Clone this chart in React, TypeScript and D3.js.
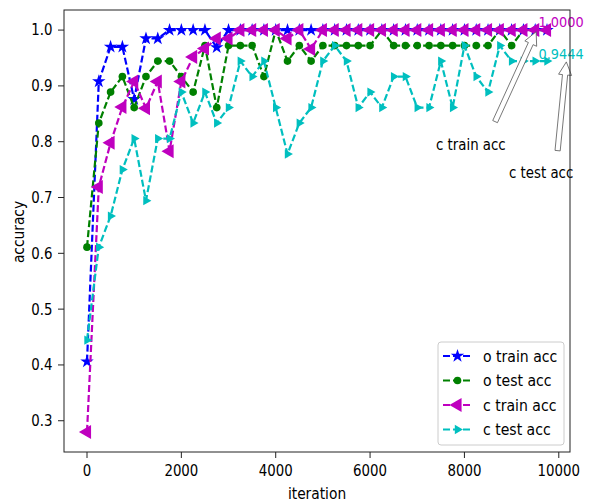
import React from 'react';
import * as d3 from 'd3';

// iteration values on x
const iterations = [
  0, 250, 500, 750, 1000, 1250, 1500, 1750, 2000, 2250,
  2500, 2750, 3000, 3250, 3500, 3750, 4000, 4250, 4500, 4750,
  5000, 5250, 5500, 5750, 6000, 6250, 6500, 6750, 7000, 7250,
  7500, 7750, 8000, 8250, 8500, 8750, 9000, 9250, 9500, 9750,
];

const oTrain = [
  0.406, 0.908, 0.970, 0.970, 0.876, 0.985, 0.985, 1.0, 1.0, 1.0,
  1.0, 0.969, 1.0, 1.0, 1.0, 1.0, 1.0, 1.0, 1.0, 1.0,
  1.0, 1.0, 1.0, 1.0, 1.0, 1.0, 1.0, 1.0, 1.0, 1.0,
  1.0, 1.0, 1.0, 1.0, 1.0, 1.0, 1.0, 1.0, 1.0, 1.0,
];

const oTest = [
  0.6111, 0.8333, 0.8889, 0.9167, 0.8611, 0.9167, 0.9444, 0.9444, 0.9167, 0.8889,
  0.9722, 0.8611, 0.9722, 0.9722, 0.9722, 0.9167, 1.0, 0.9444, 0.9722, 0.9444,
  0.9722, 0.9722, 0.9722, 0.9722, 0.9722, 1.0, 0.9722, 0.9722, 0.9722, 0.9722,
  0.9722, 0.9722, 0.9722, 0.9722, 0.9722, 1.0, 0.9722, 1.0, 1.0, 1.0,
];

const cTrain = [
  0.280, 0.719, 0.798, 0.862, 0.908, 0.860, 0.908, 0.783, 0.908, 0.952,
  0.967, 0.985, 0.985, 1.0, 1.0, 1.0, 1.0, 0.985, 1.0, 0.966,
  1.0, 1.0, 1.0, 1.0, 1.0, 1.0, 1.0, 1.0, 1.0, 1.0,
  1.0, 1.0, 1.0, 1.0, 1.0, 1.0, 1.0, 1.0, 1.0, 1.0,
];

const cTest = [
  0.4444, 0.6111, 0.6667, 0.75, 0.8056, 0.6944, 0.8056, 0.8056, 0.8889, 0.8333,
  0.8889, 0.8333, 0.8611, 0.9444, 0.9167, 0.9444, 0.8611, 0.7778, 0.8333, 0.8611,
  0.9444, 0.9722, 0.9444, 0.8611, 0.8889, 0.8611, 0.9167, 0.9167, 0.8611, 0.8611,
  0.9444, 0.8611, 0.9722, 0.9167, 0.8889, 0.9722, 0.9444, 0.9444, 0.9444, 0.9444,
];

const xTicks = [0, 2000, 4000, 6000, 8000, 10000];
const yTicks = [0.3, 0.4, 0.5, 0.6, 0.7, 0.8, 0.9, 1.0];

const series = [
  { name: 'o train acc', values: oTrain, color: '#0000ff', marker: 'star' },
  { name: 'o test acc', values: oTest, color: '#008000', marker: 'circle' },
  { name: 'c train acc', values: cTrain, color: '#bf00bf', marker: 'left' },
  { name: 'c test acc', values: cTest, color: '#00bfbf', marker: 'right' },
];

// annotation arrows: tail (near text) -> tip, text = left/baseline, all in data units
const annotations = [
  { label: 'c train acc', tail: [8650, 0.836], tip: [9520, 0.997], text: [7397, 0.785] },
  { label: 'c test acc', tail: [9975, 0.784], tip: [10160, 0.943], text: [8944, 0.735] },
];

const W = 590;
const H = 502;
const font = 'DejaVu Sans, sans-serif';
const SQ = 0.89; // the reference text is a little narrow

// squeezed text at (x, y)
const T = ({ x, y, size = 14.5, anchor = 'start', fill = '#000', children }: any) => (
  <text
    transform={`translate(${x},${y}) scale(${SQ},1)`}
    textAnchor={anchor}
    fontFamily={font}
    fontSize={size}
    fill={fill}
  >
    {children}
  </text>
);

const symbolPath = (m: string) => {
  if (m === 'star') return d3.symbol().type(d3.symbolStar).size(56)();
  if (m === 'circle') return d3.symbol().type(d3.symbolCircle).size(46)();
  return d3.symbol().type(d3.symbolTriangle).size(m === 'left' ? 85 : 38)();
};
const symbolRot = (m: string) => (m === 'left' ? -90 : m === 'right' ? 90 : 0);

// outlined arrow polygon like matplotlib's default annotate arrow
const arrowPoly = (x1: number, y1: number, x2: number, y2: number) => {
  const len = Math.hypot(x2 - x1, y2 - y1);
  const ux = (x2 - x1) / len;
  const uy = (y2 - y1) / len;
  const px = -uy;
  const py = ux;
  const w = 2.6;
  const hw = 6.5;
  const hl = 13;
  const bx = x2 - ux * hl;
  const by = y2 - uy * hl;
  const pts = [
    [x1 + px * w, y1 + py * w],
    [bx + px * w, by + py * w],
    [bx + px * hw, by + py * hw],
    [x2, y2],
    [bx - px * hw, by - py * hw],
    [bx - px * w, by - py * w],
    [x1 - px * w, y1 - py * w],
  ];
  return 'M' + pts.map((p) => p.join(',')).join('L') + 'Z';
};

export default function App() {
  const x = d3.scaleLinear().domain([-487.5, 10237.5]).range([64, 570]);
  const y = d3.scaleLinear().domain([0.244, 1.036]).range([452, 10]);

  const line = d3
    .line<number>()
    .x((_, i) => x(iterations[i]))
    .y((d) => y(d));

  const last = (arr: number[]) => arr[arr.length - 1];

  return (
    <svg width={W} height={H} style={{ position: 'absolute', left: 0, top: 0, background: '#fff' }}>
      <rect width={W} height={H} fill="#fff" />
      <defs>
        <clipPath id="plot">
          <rect x={64} y={10} width={506} height={442} />
        </clipPath>
      </defs>

      <g clipPath="url(#plot)">
        {series.map((s) => (
          <g key={s.name}>
            <path d={line(s.values) || ''} fill="none" stroke={s.color} strokeWidth={2.2} strokeDasharray="7,3" />
            {s.values.map((v, i) => (
              <path
                key={i}
                d={symbolPath(s.marker) || ''}
                fill={s.color}
                transform={`translate(${x(iterations[i])},${y(v)}) rotate(${symbolRot(s.marker)})`}
              />
            ))}
          </g>
        ))}
      </g>

      {/* value labels */}
      <T x={x(9570)} y={y(1.0) - 3.5} fill="#bf00bf">
        {last(cTrain).toFixed(4)}
      </T>
      <T x={x(9570)} y={y(0.9444) - 2} fill="#00bfbf">
        {last(cTest).toFixed(4)}
      </T>

      {annotations.map((a) => (
        <g key={a.label}>
          <path
            d={arrowPoly(x(a.tail[0]), y(a.tail[1]), x(a.tip[0]), y(a.tip[1]))}
            fill="#fff"
            stroke="#555"
            strokeWidth={0.8}
          />
          <T x={x(a.text[0])} y={y(a.text[1])} size={15}>
            {a.label}
          </T>
        </g>
      ))}

      {/* spines */}
      <rect x={64} y={10} width={506} height={442} fill="none" stroke="#222" strokeWidth={1} />

      {/* x axis */}
      {xTicks.map((t) => (
        <g key={t}>
          <line x1={x(t)} x2={x(t)} y1={452} y2={458} stroke="#222" />
          <T x={x(t)} y={476} anchor="middle" size={15}>
            {t}
          </T>
        </g>
      ))}
      <T x={317} y={499} anchor="middle" size={15.5}>
        iteration
      </T>

      {/* y axis */}
      {yTicks.map((t) => (
        <g key={t}>
          <line x1={58} x2={64} y1={y(t)} y2={y(t)} stroke="#222" />
          <T x={52.5} y={y(t) + 5.4} anchor="end" size={15}>
            {t.toFixed(1)}
          </T>
        </g>
      ))}
      <text
        transform={`translate(24,232) rotate(-90) scale(${SQ},1)`}
        textAnchor="middle"
        fontFamily={font}
        fontSize={15.5}
      >
        accuracy
      </text>

      {/* legend */}
      <g>
        <rect x={438} y={342} width={126} height={103} rx={3} fill="#fff" fillOpacity={0.8} stroke="#ccc" />
        {series.map((s, i) => {
          const ly = 356 + i * 24.5;
          return (
            <g key={s.name}>
              <line x1={443} x2={472} y1={ly} y2={ly} stroke={s.color} strokeWidth={2.2} strokeDasharray="7,3" />
              <path
                d={symbolPath(s.marker) || ''}
                fill={s.color}
                transform={`translate(457.5,${ly}) rotate(${symbolRot(s.marker)})`}
              />
              <T x={483} y={ly + 5.5} size={15.8}>
                {s.name}
              </T>
            </g>
          );
        })}
      </g>
    </svg>
  );
}
